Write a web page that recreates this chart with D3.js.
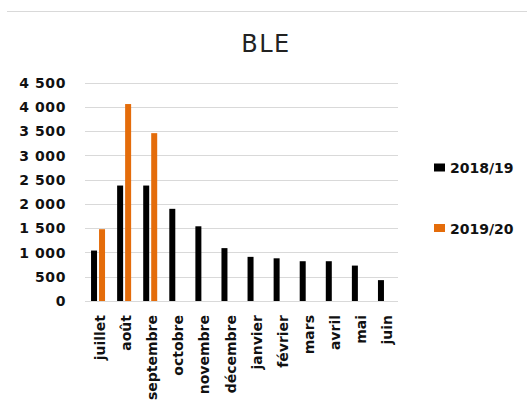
<!DOCTYPE html>
<html>
<head>
<meta charset="utf-8">
<script src="https://cdn.jsdelivr.net/npm/d3@7"></script>
<style>
  body { margin: 0; background: #fff; }
  svg { display: block; }
  text { font-family: "DejaVu Sans", sans-serif; }
</style>
</head>
<body>
<svg id="chart" width="527" height="408"></svg>
<script>
var months = ["juillet", "août", "septembre", "octobre", "novembre", "décembre",
              "janvier", "février", "mars", "avril", "mai", "juin"];
var series = ["2018/19", "2019/20"];
var colors = ["#000000", "#E46C0A"];
var values2018 = [1040, 2380, 2380, 1900, 1540, 1090, 910, 880, 820, 820, 730, 430];
var values2019 = [1480, 4060, 3460, null, null, null, null, null, null, null, null, null];
var yTicks = [0, 500, 1000, 1500, 2000, 2500, 3000, 3500, 4000, 4500];

var svg = d3.select("#chart");
var plotLeft = 85, plotRight = 398, plotTop = 82.7, plotBottom = 301;

// top border line
svg.append("line")
    .attr("x1", 7).attr("x2", 527)
    .attr("y1", 11.5).attr("y2", 11.5)
    .attr("stroke", "#d9d9d9").attr("stroke-width", 1);

svg.append("text")
    .attr("x", 266).attr("y", 52)
    .attr("text-anchor", "middle")
    .attr("font-size", 24)
    .attr("letter-spacing", 1.5)
    .attr("fill", "#222")
    .text("BLE");

var y = d3.scaleLinear().domain([0, 4500]).range([plotBottom, plotTop]);
var x0 = d3.scaleBand().domain(months).range([plotLeft, plotRight]).padding(0);
var bw = x0.bandwidth();
var x1 = d3.scaleBand().domain(series).range([bw / 2 - 7, bw / 2 + 7]).paddingInner(0.25);

// gridlines
svg.append("g").selectAll("line").data(yTicks)
    .enter().append("line")
    .attr("x1", plotLeft).attr("x2", plotRight)
    .attr("y1", function(d) { return Math.round(y(d)) + 0.5; })
    .attr("y2", function(d) { return Math.round(y(d)) + 0.5; })
    .attr("stroke", "#d9d9d9").attr("stroke-width", 1.2);

// y labels
var fmt = function(d) { return d3.format(",")(d).replace(",", " "); };
svg.append("g").selectAll("text").data(yTicks)
    .enter().append("text")
    .attr("x", 66)
    .attr("y", function(d) { return y(d); })
    .attr("dy", "0.36em")
    .attr("text-anchor", "end")
    .attr("font-size", 14)
    .attr("font-weight", "bold")
    .attr("letter-spacing", 0.6)
    .attr("fill", "#111")
    .text(fmt);

// bars
var allValues = [values2018, values2019];
var barData = [];
months.forEach(function(m, i) {
    series.forEach(function(s, j) {
        if (allValues[j][i] != null) barData.push({m: m, s: s, v: allValues[j][i], c: colors[j]});
    });
});
svg.append("g").selectAll("rect").data(barData)
    .enter().append("rect")
    .attr("x", function(d) { return x0(d.m) + x1(d.s); })
    .attr("y", function(d) { return y(d.v); })
    .attr("width", x1.bandwidth())
    .attr("height", function(d) { return y(0) - y(d.v); })
    .attr("fill", function(d) { return d.c; });

// x labels
svg.append("g").selectAll("text").data(months)
    .enter().append("text")
    .attr("transform", function(d) {
        return "translate(" + (x0(d) + bw / 2 + 2) + ",315) rotate(-90)";
    })
    .attr("dy", "0.36em")
    .attr("text-anchor", "end")
    .attr("font-size", 14)
    .attr("font-weight", "bold")
    .attr("fill", "#111")
    .text(function(d) { return d; });

// legend
var legend = svg.append("g").selectAll("g").data(series)
    .enter().append("g")
    .attr("transform", function(d, i) { return "translate(434," + (168 + i * 60.5) + ")"; });
legend.append("rect")
    .attr("x", 0).attr("y", -4.5)
    .attr("width", 11).attr("height", 8)
    .attr("fill", function(d, i) { return colors[i]; });
legend.append("text")
    .attr("x", 16).attr("y", 0)
    .attr("dy", "0.36em")
    .attr("font-size", 14)
    .attr("font-weight", "bold")
    .attr("fill", "#111")
    .text(function(d) { return d; });
</script>
</body>
</html>
